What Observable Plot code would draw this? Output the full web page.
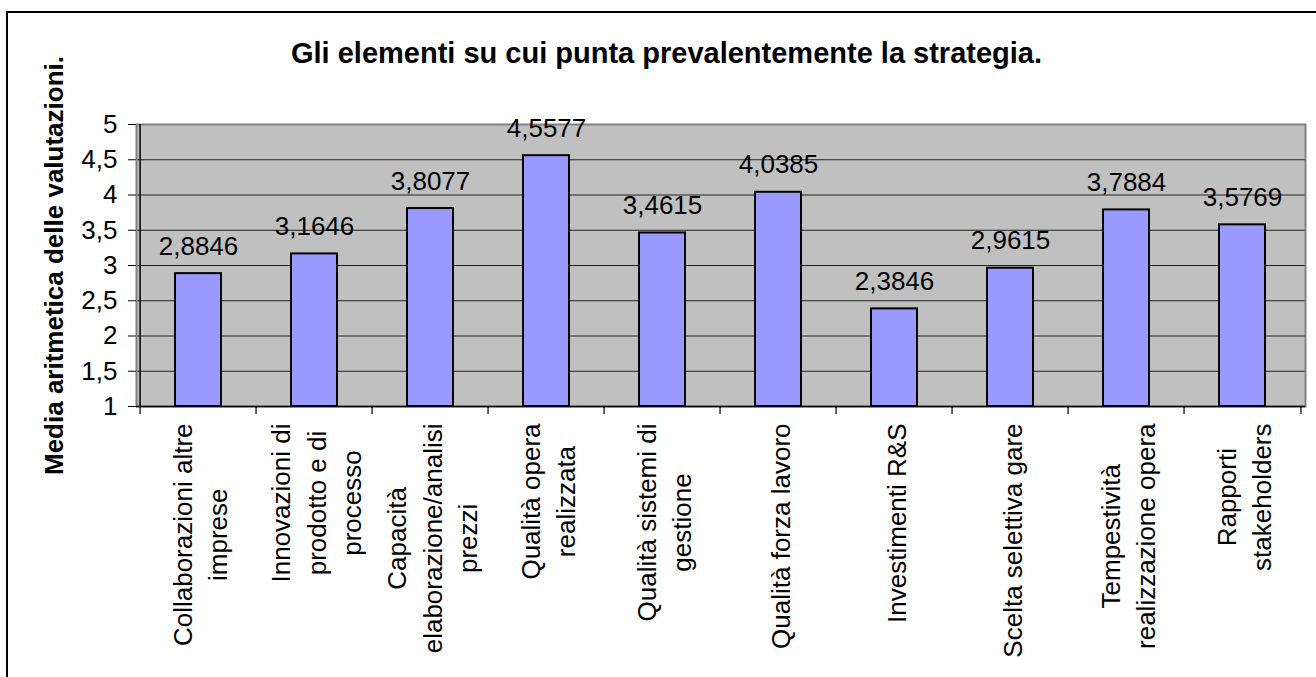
<!DOCTYPE html>
<html>
<head>
<meta charset="utf-8">
<script src="https://cdn.jsdelivr.net/npm/d3@7"></script>
<script src="https://cdn.jsdelivr.net/npm/@observablehq/plot@0.6"></script>
<style>
  html, body { margin: 0; padding: 0; background: #fff; overflow: hidden; }
  #wrap { position: relative; width: 1316px; height: 677px; }
  #border { position: absolute; left: 6px; top: 11px; width: 1330px; height: 700px; border: 2px solid #000; box-sizing: border-box; pointer-events: none; }
</style>
</head>
<body>
<div id="wrap"><div id="border"></div></div>
<script>
const title = "Gli elementi su cui punta prevalentemente la strategia.";
const yTitle = "Media aritmetica delle valutazioni.";
const categories = [
  "Collaborazioni altre imprese",
  "Innovazioni di prodotto e di processo",
  "Capacità elaborazione/analisi prezzi",
  "Qualità opera realizzata",
  "Qualità sistemi di gestione",
  "Qualità forza lavoro",
  "Investimenti R&S",
  "Scelta selettiva gare",
  "Tempestività realizzazione opera",
  "Rapporti stakeholders"
];
const labelLines = [
  ["Collaborazioni altre", "imprese"],
  ["Innovazioni di", "prodotto e di", "processo"],
  ["Capacità", "elaborazione/analisi", "prezzi"],
  ["Qualità opera", "realizzata"],
  ["Qualità sistemi di", "gestione"],
  ["Qualità forza lavoro"],
  ["Investimenti R&S"],
  ["Scelta selettiva gare"],
  ["Tempestività", "realizzazione opera"],
  ["Rapporti", "stakeholders"]
];
const values = [2.8846, 3.1646, 3.8077, 4.5577, 3.4615, 4.0385, 2.3846, 2.9615, 3.7884, 3.5769];
const yTicks = [1, 1.5, 2, 2.5, 3, 3.5, 4, 4.5, 5];
const yMin = 1, yMax = 5;

const data = categories.map((c, i) => ({cat: c, value: values[i]}));
const fmt = v => String(v).replace(".", ",");

const W = 1316, H = 677, mL = 136, mR = 11, mT = 124, mB = 271;
const step = (W - mL - mR) / categories.length;
const FONT = "'Liberation Sans', Arial, Helvetica, sans-serif";
const FS = 26;

const ctx = document.createElement("canvas").getContext("2d");
ctx.font = `${FS}px ${FONT}`;
const maxW = labelLines.map(lines => Math.max(...lines.map(l => ctx.measureText(l).width)));

const xLabelMarks = categories.map((c, i) => Plot.text([c], {
  x: d => d,
  text: () => labelLines[i].join("\n"),
  frameAnchor: "bottom",
  dy: 17 + maxW[i] / 2,
  rotate: -90,
  textAnchor: "middle",
  lineAnchor: "middle",
  lineHeight: 1.36,
  fontSize: FS,
  fill: "#000"
}));

const chart = Plot.plot({
  width: W, height: H,
  marginLeft: mL, marginRight: mR, marginTop: mT, marginBottom: mB,
  style: {fontFamily: FONT, fontSize: FS + "px", background: "transparent", color: "#000", overflow: "visible"},
  x: {domain: categories, paddingInner: 0.6, paddingOuter: 0.3, axis: null},
  y: {domain: [yMin, yMax], axis: null},
  marks: [
    Plot.frame({fill: "#c0c0c0"}),
    Plot.ruleY(yTicks, {stroke: "#222", strokeWidth: 1}),
    Plot.frame({stroke: "#808080", strokeWidth: 2}),
    Plot.ruleY([yMin], {stroke: "#000", strokeWidth: 1.5}),
    Plot.ruleX([categories[0]], {x: d => d, dx: -step / 2, stroke: "#000", strokeWidth: 1.5}),
    Plot.ruleX(categories, {x: d => d, dx: -step / 2, insetTop: H - mT - mB, insetBottom: -8, stroke: "#000", strokeWidth: 1.2}),
    Plot.ruleX([categories[categories.length - 1]], {x: d => d, dx: step / 2, insetTop: H - mT - mB, insetBottom: -8, stroke: "#000", strokeWidth: 1.2}),
    Plot.axisY({ticks: yTicks, tickSize: 8, tickPadding: 11, tickFormat: fmt, label: null, fontSize: FS, stroke: "#000"}),
    Plot.barY(data, {x: "cat", y1: yMin, y2: "value", fill: "#9999ff", stroke: "#000", strokeWidth: 2}),
    Plot.text(data, {x: "cat", y: "value", text: d => fmt(d.value), dy: -19, lineAnchor: "bottom", fontSize: FS, fill: "#000"}),
    ...xLabelMarks,
    Plot.text([yTitle], {text: d => d, frameAnchor: "left", dx: -74, rotate: -90, textAnchor: "middle", lineAnchor: "bottom", fontWeight: "bold", fontSize: 26, fill: "#000"}),
    Plot.text([title], {text: d => d, frameAnchor: "top", dx: 666 - (mL + (W - mL - mR) / 2), dy: -62, lineAnchor: "bottom", fontWeight: "bold", fontSize: 29, fill: "#000"})
  ]
});
chart.style.position = "absolute";
chart.style.left = "0px";
chart.style.top = "0px";
document.getElementById("wrap").prepend(chart);
</script>
</body>
</html>
